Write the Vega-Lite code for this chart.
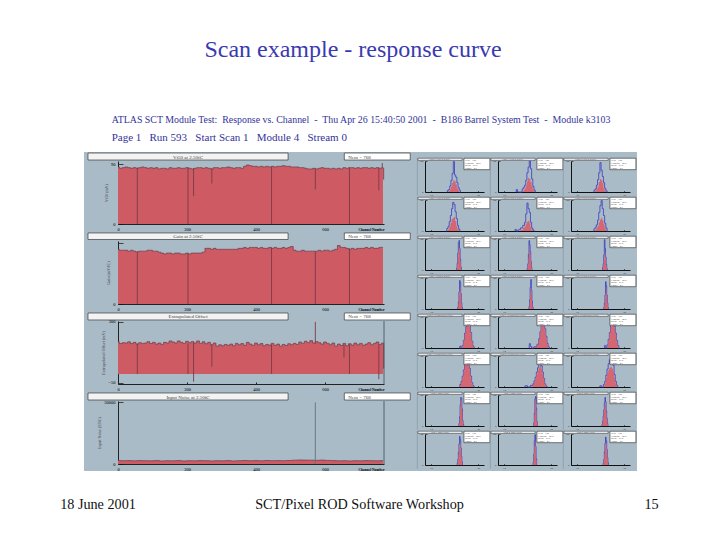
{"$schema":"https://vega.github.io/schema/vega-lite/v6.json","background":"#a9bbc6","padding":0,"spacing":0,"config":{"font":"Liberation Serif","concat":{"spacing":0},"axis":{"grid":false,"labelFont":"Liberation Serif","titleFont":"Liberation Serif","labelOverlap":false,"labelFlush":false,"labelBound":false},"style":{"cell":{"stroke":null},"hx":{"labelFontSize":2.8,"labelPadding":3,"labelColor":"#333","domainColor":"#111","domainWidth":1,"tickColor":"#111","tickSize":-1.5,"tickWidth":0.6},"hy":{"labelFontSize":2.8,"labelPadding":4,"labelColor":"#333","domainColor":"#111","domainWidth":1,"tickColor":"#111","tickSize":-2,"tickWidth":0.6}}},
"datasets":{
"vt50":[{"x":0,"v":86},{"x":8,"v":84},{"x":16,"v":85},{"x":24,"v":86},{"x":32,"v":85},{"x":40,"v":84},{"x":48,"v":85},{"x":56,"v":84},{"x":64,"v":85},{"x":72,"v":86},{"x":80,"v":85},{"x":88,"v":84},{"x":96,"v":85},{"x":104,"v":84},{"x":112,"v":85},{"x":120,"v":83},{"x":128,"v":84},{"x":136,"v":84},{"x":144,"v":83},{"x":152,"v":85},{"x":160,"v":84},{"x":168,"v":84},{"x":176,"v":85},{"x":184,"v":84},{"x":192,"v":84},{"x":200,"v":85},{"x":208,"v":84},{"x":216,"v":83},{"x":224,"v":84},{"x":232,"v":85},{"x":240,"v":85},{"x":248,"v":84},{"x":256,"v":85},{"x":264,"v":84},{"x":272,"v":83},{"x":280,"v":85},{"x":288,"v":85},{"x":296,"v":84},{"x":304,"v":85},{"x":312,"v":85},{"x":320,"v":86},{"x":328,"v":85},{"x":336,"v":84},{"x":344,"v":85},{"x":352,"v":85},{"x":360,"v":84},{"x":368,"v":87},{"x":376,"v":89},{"x":384,"v":88},{"x":392,"v":87},{"x":400,"v":87},{"x":408,"v":86},{"x":416,"v":87},{"x":424,"v":86},{"x":432,"v":87},{"x":440,"v":86},{"x":448,"v":87},{"x":456,"v":86},{"x":464,"v":87},{"x":472,"v":87},{"x":480,"v":88},{"x":488,"v":87},{"x":496,"v":87},{"x":504,"v":86},{"x":512,"v":86},{"x":520,"v":86},{"x":528,"v":85},{"x":536,"v":85},{"x":544,"v":84},{"x":552,"v":83},{"x":560,"v":83},{"x":568,"v":84},{"x":576,"v":83},{"x":584,"v":84},{"x":592,"v":85},{"x":600,"v":84},{"x":608,"v":84},{"x":616,"v":83},{"x":624,"v":84},{"x":632,"v":83},{"x":640,"v":84},{"x":648,"v":83},{"x":656,"v":85},{"x":664,"v":84},{"x":672,"v":85},{"x":680,"v":85},{"x":688,"v":84},{"x":696,"v":85},{"x":704,"v":84},{"x":712,"v":85},{"x":720,"v":85},{"x":728,"v":84},{"x":736,"v":85},{"x":744,"v":84},{"x":752,"v":85},{"x":760,"v":84},{"x":768,"v":85}],
"gain":[{"x":0,"v":58},{"x":8,"v":57},{"x":16,"v":57},{"x":24,"v":57},{"x":32,"v":56},{"x":40,"v":57},{"x":48,"v":56},{"x":56,"v":55},{"x":64,"v":56},{"x":72,"v":56},{"x":80,"v":56},{"x":88,"v":57},{"x":96,"v":57},{"x":104,"v":56},{"x":112,"v":56},{"x":120,"v":55},{"x":128,"v":54},{"x":136,"v":53},{"x":144,"v":54},{"x":152,"v":54},{"x":160,"v":53},{"x":168,"v":54},{"x":176,"v":54},{"x":184,"v":53},{"x":192,"v":53},{"x":200,"v":54},{"x":208,"v":53},{"x":216,"v":54},{"x":224,"v":54},{"x":232,"v":54},{"x":240,"v":54},{"x":248,"v":55},{"x":256,"v":59},{"x":264,"v":59},{"x":272,"v":58},{"x":280,"v":59},{"x":288,"v":58},{"x":296,"v":58},{"x":304,"v":58},{"x":312,"v":58},{"x":320,"v":58},{"x":328,"v":58},{"x":336,"v":58},{"x":344,"v":58},{"x":352,"v":59},{"x":360,"v":59},{"x":368,"v":60},{"x":376,"v":59},{"x":384,"v":60},{"x":392,"v":60},{"x":400,"v":60},{"x":408,"v":59},{"x":416,"v":60},{"x":424,"v":59},{"x":432,"v":59},{"x":440,"v":60},{"x":448,"v":59},{"x":456,"v":60},{"x":464,"v":59},{"x":472,"v":59},{"x":480,"v":60},{"x":488,"v":59},{"x":496,"v":60},{"x":504,"v":61},{"x":512,"v":57},{"x":520,"v":56},{"x":528,"v":56},{"x":536,"v":57},{"x":544,"v":56},{"x":552,"v":56},{"x":560,"v":56},{"x":568,"v":56},{"x":576,"v":56},{"x":584,"v":57},{"x":592,"v":56},{"x":600,"v":57},{"x":608,"v":57},{"x":616,"v":56},{"x":624,"v":57},{"x":632,"v":58},{"x":640,"v":62},{"x":648,"v":60},{"x":656,"v":60},{"x":664,"v":59},{"x":672,"v":58},{"x":680,"v":59},{"x":688,"v":58},{"x":696,"v":59},{"x":704,"v":59},{"x":712,"v":59},{"x":720,"v":60},{"x":728,"v":59},{"x":736,"v":60},{"x":744,"v":59},{"x":752,"v":59},{"x":760,"v":60},{"x":768,"v":60}],
"offset":[{"x":0,"v":185},{"x":8,"v":175},{"x":16,"v":180},{"x":24,"v":178},{"x":32,"v":185},{"x":40,"v":175},{"x":48,"v":182},{"x":56,"v":172},{"x":64,"v":180},{"x":72,"v":176},{"x":80,"v":178},{"x":88,"v":186},{"x":96,"v":175},{"x":104,"v":182},{"x":112,"v":172},{"x":120,"v":178},{"x":128,"v":170},{"x":136,"v":182},{"x":144,"v":178},{"x":152,"v":190},{"x":160,"v":184},{"x":168,"v":178},{"x":176,"v":190},{"x":184,"v":182},{"x":192,"v":176},{"x":200,"v":188},{"x":208,"v":180},{"x":216,"v":186},{"x":224,"v":178},{"x":232,"v":190},{"x":240,"v":176},{"x":248,"v":185},{"x":256,"v":174},{"x":264,"v":182},{"x":272,"v":168},{"x":280,"v":178},{"x":288,"v":160},{"x":296,"v":168},{"x":304,"v":162},{"x":312,"v":170},{"x":320,"v":165},{"x":328,"v":172},{"x":336,"v":162},{"x":344,"v":176},{"x":352,"v":168},{"x":360,"v":175},{"x":368,"v":165},{"x":376,"v":182},{"x":384,"v":172},{"x":392,"v":165},{"x":400,"v":178},{"x":408,"v":168},{"x":416,"v":175},{"x":424,"v":162},{"x":432,"v":170},{"x":440,"v":166},{"x":448,"v":176},{"x":456,"v":165},{"x":464,"v":172},{"x":472,"v":160},{"x":480,"v":170},{"x":488,"v":164},{"x":496,"v":174},{"x":504,"v":168},{"x":512,"v":176},{"x":520,"v":170},{"x":528,"v":184},{"x":536,"v":176},{"x":544,"v":188},{"x":552,"v":180},{"x":560,"v":192},{"x":568,"v":178},{"x":576,"v":186},{"x":584,"v":180},{"x":592,"v":172},{"x":600,"v":184},{"x":608,"v":176},{"x":616,"v":168},{"x":624,"v":178},{"x":632,"v":160},{"x":640,"v":172},{"x":648,"v":164},{"x":656,"v":176},{"x":664,"v":162},{"x":672,"v":174},{"x":680,"v":166},{"x":688,"v":178},{"x":696,"v":168},{"x":704,"v":176},{"x":712,"v":165},{"x":720,"v":172},{"x":728,"v":180},{"x":736,"v":168},{"x":744,"v":176},{"x":752,"v":184},{"x":760,"v":170},{"x":768,"v":178}],
"noise":[{"x":0,"v":1700},{"x":16,"v":1600},{"x":32,"v":1650},{"x":48,"v":1550},{"x":64,"v":1650},{"x":80,"v":1600},{"x":96,"v":1550},{"x":112,"v":1650},{"x":128,"v":1500},{"x":144,"v":1600},{"x":160,"v":1550},{"x":176,"v":1650},{"x":192,"v":1500},{"x":208,"v":1600},{"x":224,"v":1550},{"x":240,"v":1650},{"x":256,"v":1600},{"x":272,"v":1500},{"x":288,"v":1600},{"x":304,"v":1550},{"x":320,"v":1650},{"x":336,"v":1500},{"x":352,"v":1600},{"x":368,"v":1700},{"x":384,"v":1600},{"x":400,"v":1650},{"x":416,"v":1550},{"x":432,"v":1700},{"x":448,"v":1600},{"x":464,"v":1650},{"x":480,"v":1600},{"x":496,"v":1700},{"x":512,"v":1850},{"x":528,"v":1950},{"x":544,"v":1900},{"x":560,"v":1850},{"x":576,"v":1800},{"x":592,"v":1900},{"x":608,"v":1750},{"x":624,"v":1650},{"x":640,"v":1550},{"x":656,"v":1600},{"x":672,"v":1500},{"x":688,"v":1600},{"x":704,"v":1550},{"x":720,"v":1650},{"x":736,"v":1600},{"x":752,"v":1550},{"x":768,"v":1650}],
"dips1":[{"x":56,"a":85,"b":0},{"x":203,"a":85,"b":0},{"x":219,"a":84,"b":42},{"x":272,"a":84,"b":61},{"x":445,"a":86,"b":0},{"x":572,"a":84,"b":52},{"x":671,"a":85,"b":0},{"x":756,"a":85,"b":51},{"x":766,"a":92,"b":85},{"x":770,"a":85,"b":67}],
"dips2":[{"x":56,"a":56,"b":0},{"x":203,"a":54,"b":0},{"x":445,"a":60,"b":0},{"x":572,"a":56,"b":0},{"x":671,"a":59,"b":0}],
"dips3":[{"x":56,"a":175,"b":0},{"x":203,"a":175,"b":0},{"x":219,"a":180,"b":-45},{"x":272,"a":170,"b":42},{"x":445,"a":170,"b":0},{"x":572,"a":300,"b":175},{"x":655,"a":170,"b":95},{"x":671,"a":170,"b":0},{"x":756,"a":170,"b":-30},{"x":770,"a":180,"b":30}],
"dips4":[{"x":572,"a":30000,"b":0}],
"hist":[
{"c":1,"x":37,"b":0,"r":0},{"c":1,"x":39,"b":5,"r":1},{"c":1,"x":41,"b":8,"r":3},{"c":1,"x":43,"b":20,"r":8},{"c":1,"x":45,"b":38,"r":18},{"c":1,"x":47,"b":60,"r":30},{"c":1,"x":49,"b":98,"r":38},{"c":1,"x":51,"b":55,"r":35},{"c":1,"x":53,"b":48,"r":25},{"c":1,"x":55,"b":30,"r":12},{"c":1,"x":57,"b":14,"r":5},{"c":1,"x":59,"b":6,"r":1},{"c":1,"x":61,"b":0,"r":0},
{"c":2,"x":30,"b":0,"r":0},{"c":2,"x":32,"b":8,"r":0},{"c":2,"x":34,"b":0,"r":0},{"c":2,"x":40,"b":0,"r":0},{"c":2,"x":42,"b":10,"r":2},{"c":2,"x":44,"b":15,"r":6},{"c":2,"x":46,"b":22,"r":12},{"c":2,"x":48,"b":38,"r":22},{"c":2,"x":50,"b":62,"r":35},{"c":2,"x":52,"b":80,"r":45},{"c":2,"x":54,"b":100,"r":42},{"c":2,"x":56,"b":75,"r":32},{"c":2,"x":58,"b":42,"r":18},{"c":2,"x":60,"b":18,"r":6},{"c":2,"x":62,"b":6,"r":2},{"c":2,"x":64,"b":0,"r":0},
{"c":3,"x":38,"b":0,"r":0},{"c":3,"x":40,"b":6,"r":1},{"c":3,"x":42,"b":10,"r":4},{"c":3,"x":44,"b":22,"r":10},{"c":3,"x":46,"b":40,"r":18},{"c":3,"x":48,"b":62,"r":32},{"c":3,"x":50,"b":95,"r":42},{"c":3,"x":52,"b":70,"r":38},{"c":3,"x":54,"b":50,"r":28},{"c":3,"x":56,"b":30,"r":12},{"c":3,"x":58,"b":12,"r":4},{"c":3,"x":60,"b":4,"r":1},{"c":3,"x":62,"b":0,"r":0},
{"c":4,"x":36,"b":0,"r":0},{"c":4,"x":38,"b":8,"r":2},{"c":4,"x":40,"b":15,"r":5},{"c":4,"x":42,"b":30,"r":14},{"c":4,"x":44,"b":50,"r":26},{"c":4,"x":46,"b":72,"r":38},{"c":4,"x":48,"b":92,"r":42},{"c":4,"x":50,"b":85,"r":45},{"c":4,"x":52,"b":62,"r":32},{"c":4,"x":54,"b":40,"r":16},{"c":4,"x":56,"b":18,"r":6},{"c":4,"x":58,"b":6,"r":1},{"c":4,"x":60,"b":0,"r":0},
{"c":5,"x":28,"b":0,"r":0},{"c":5,"x":30,"b":5,"r":0},{"c":5,"x":32,"b":0,"r":0},{"c":5,"x":36,"b":4,"r":0},{"c":5,"x":40,"b":10,"r":3},{"c":5,"x":44,"b":18,"r":10},{"c":5,"x":46,"b":28,"r":15},{"c":5,"x":48,"b":55,"r":24},{"c":5,"x":50,"b":90,"r":30},{"c":5,"x":52,"b":72,"r":32},{"c":5,"x":54,"b":60,"r":26},{"c":5,"x":56,"b":28,"r":12},{"c":5,"x":58,"b":10,"r":3},{"c":5,"x":60,"b":3,"r":0},{"c":5,"x":62,"b":0,"r":0},
{"c":6,"x":38,"b":0,"r":0},{"c":6,"x":40,"b":7,"r":2},{"c":6,"x":42,"b":12,"r":4},{"c":6,"x":44,"b":20,"r":10},{"c":6,"x":46,"b":35,"r":16},{"c":6,"x":48,"b":60,"r":28},{"c":6,"x":50,"b":82,"r":36},{"c":6,"x":52,"b":98,"r":42},{"c":6,"x":54,"b":72,"r":35},{"c":6,"x":56,"b":50,"r":22},{"c":6,"x":58,"b":25,"r":9},{"c":6,"x":60,"b":10,"r":3},{"c":6,"x":62,"b":0,"r":0},
{"c":7,"x":53,"b":0,"r":0},{"c":7,"x":54,"b":6,"r":4},{"c":7,"x":55,"b":22,"r":18},{"c":7,"x":56,"b":55,"r":40},{"c":7,"x":57,"b":88,"r":62},{"c":7,"x":58,"b":95,"r":72},{"c":7,"x":59,"b":70,"r":60},{"c":7,"x":60,"b":35,"r":28},{"c":7,"x":61,"b":10,"r":8},{"c":7,"x":62,"b":0,"r":0},
{"c":8,"x":49,"b":0,"r":0},{"c":8,"x":50,"b":5,"r":4},{"c":8,"x":51,"b":20,"r":14},{"c":8,"x":52,"b":50,"r":38},{"c":8,"x":53,"b":95,"r":55},{"c":8,"x":54,"b":82,"r":70},{"c":8,"x":55,"b":60,"r":50},{"c":8,"x":56,"b":28,"r":22},{"c":8,"x":57,"b":8,"r":6},{"c":8,"x":58,"b":0,"r":0},
{"c":9,"x":53,"b":0,"r":0},{"c":9,"x":54,"b":8,"r":4},{"c":9,"x":55,"b":20,"r":14},{"c":9,"x":56,"b":48,"r":30},{"c":9,"x":57,"b":98,"r":45},{"c":9,"x":58,"b":70,"r":58},{"c":9,"x":59,"b":42,"r":35},{"c":9,"x":60,"b":18,"r":14},{"c":9,"x":61,"b":5,"r":3},{"c":9,"x":62,"b":0,"r":0},
{"c":10,"x":55,"b":0,"r":0},{"c":10,"x":56,"b":6,"r":4},{"c":10,"x":57,"b":22,"r":18},{"c":10,"x":58,"b":55,"r":42},{"c":10,"x":59,"b":92,"r":60},{"c":10,"x":60,"b":85,"r":70},{"c":10,"x":61,"b":50,"r":45},{"c":10,"x":62,"b":20,"r":16},{"c":10,"x":63,"b":5,"r":3},{"c":10,"x":64,"b":0,"r":0},
{"c":11,"x":52,"b":0,"r":0},{"c":11,"x":53,"b":8,"r":5},{"c":11,"x":54,"b":30,"r":22},{"c":11,"x":55,"b":70,"r":50},{"c":11,"x":56,"b":95,"r":68},{"c":11,"x":57,"b":60,"r":52},{"c":11,"x":58,"b":25,"r":20},{"c":11,"x":59,"b":6,"r":4},{"c":11,"x":60,"b":0,"r":0},
{"c":12,"x":55,"b":0,"r":0},{"c":12,"x":56,"b":5,"r":3},{"c":12,"x":57,"b":18,"r":12},{"c":12,"x":58,"b":45,"r":32},{"c":12,"x":59,"b":88,"r":52},{"c":12,"x":60,"b":75,"r":65},{"c":12,"x":61,"b":45,"r":42},{"c":12,"x":62,"b":20,"r":18},{"c":12,"x":63,"b":4,"r":3},{"c":12,"x":64,"b":0,"r":0},
{"c":13,"x":58,"b":0,"r":0},{"c":13,"x":60,"b":6,"r":0},{"c":13,"x":62,"b":0,"r":0},{"c":13,"x":64,"b":8,"r":6},{"c":13,"x":66,"b":25,"r":24},{"c":13,"x":68,"b":48,"r":46},{"c":13,"x":70,"b":68,"r":66},{"c":13,"x":72,"b":85,"r":78},{"c":13,"x":74,"b":90,"r":82},{"c":13,"x":76,"b":72,"r":68},{"c":13,"x":78,"b":50,"r":46},{"c":13,"x":80,"b":22,"r":20},{"c":13,"x":82,"b":6,"r":4},{"c":13,"x":84,"b":0,"r":0},
{"c":14,"x":52,"b":0,"r":0},{"c":14,"x":54,"b":14,"r":0},{"c":14,"x":56,"b":5,"r":0},{"c":14,"x":58,"b":0,"r":0},{"c":14,"x":64,"b":4,"r":3},{"c":14,"x":68,"b":12,"r":10},{"c":14,"x":70,"b":30,"r":28},{"c":14,"x":72,"b":52,"r":50},{"c":14,"x":74,"b":78,"r":70},{"c":14,"x":76,"b":92,"r":85},{"c":14,"x":78,"b":85,"r":80},{"c":14,"x":80,"b":62,"r":58},{"c":14,"x":82,"b":38,"r":35},{"c":14,"x":84,"b":15,"r":12},{"c":14,"x":86,"b":4,"r":2},{"c":14,"x":88,"b":0,"r":0},
{"c":15,"x":56,"b":0,"r":0},{"c":15,"x":58,"b":8,"r":0},{"c":15,"x":60,"b":0,"r":0},{"c":15,"x":62,"b":10,"r":8},{"c":15,"x":64,"b":28,"r":25},{"c":15,"x":66,"b":50,"r":48},{"c":15,"x":68,"b":72,"r":68},{"c":15,"x":70,"b":88,"r":82},{"c":15,"x":72,"b":92,"r":85},{"c":15,"x":74,"b":70,"r":65},{"c":15,"x":76,"b":48,"r":44},{"c":15,"x":78,"b":24,"r":20},{"c":15,"x":80,"b":8,"r":5},{"c":15,"x":82,"b":0,"r":0},
{"c":16,"x":58,"b":0,"r":0},{"c":16,"x":60,"b":8,"r":6},{"c":16,"x":62,"b":18,"r":16},{"c":16,"x":64,"b":35,"r":32},{"c":16,"x":66,"b":55,"r":52},{"c":16,"x":68,"b":72,"r":70},{"c":16,"x":70,"b":88,"r":84},{"c":16,"x":72,"b":95,"r":90},{"c":16,"x":74,"b":85,"r":80},{"c":16,"x":76,"b":60,"r":56},{"c":16,"x":78,"b":35,"r":30},{"c":16,"x":80,"b":14,"r":10},{"c":16,"x":82,"b":4,"r":2},{"c":16,"x":84,"b":0,"r":0},
{"c":17,"x":44,"b":0,"r":0},{"c":17,"x":48,"b":4,"r":1},{"c":17,"x":52,"b":0,"r":0},{"c":17,"x":58,"b":5,"r":2},{"c":17,"x":60,"b":10,"r":8},{"c":17,"x":62,"b":20,"r":16},{"c":17,"x":64,"b":32,"r":28},{"c":17,"x":66,"b":48,"r":42},{"c":17,"x":68,"b":62,"r":55},{"c":17,"x":70,"b":72,"r":62},{"c":17,"x":72,"b":88,"r":70},{"c":17,"x":74,"b":68,"r":58},{"c":17,"x":76,"b":48,"r":42},{"c":17,"x":78,"b":28,"r":24},{"c":17,"x":80,"b":10,"r":8},{"c":17,"x":82,"b":3,"r":1},{"c":17,"x":84,"b":0,"r":0},
{"c":18,"x":48,"b":0,"r":0},{"c":18,"x":50,"b":4,"r":1},{"c":18,"x":54,"b":0,"r":0},{"c":18,"x":56,"b":8,"r":4},{"c":18,"x":58,"b":18,"r":12},{"c":18,"x":60,"b":38,"r":30},{"c":18,"x":62,"b":58,"r":44},{"c":18,"x":64,"b":75,"r":55},{"c":18,"x":66,"b":88,"r":62},{"c":18,"x":68,"b":92,"r":65},{"c":18,"x":70,"b":82,"r":60},{"c":18,"x":72,"b":70,"r":50},{"c":18,"x":74,"b":40,"r":30},{"c":18,"x":76,"b":18,"r":12},{"c":18,"x":78,"b":6,"r":3},{"c":18,"x":80,"b":0,"r":0},
{"c":19,"x":57,"b":0,"r":0},{"c":19,"x":58,"b":8,"r":5},{"c":19,"x":59,"b":30,"r":25},{"c":19,"x":60,"b":68,"r":58},{"c":19,"x":61,"b":92,"r":80},{"c":19,"x":62,"b":90,"r":82},{"c":19,"x":63,"b":55,"r":48},{"c":19,"x":64,"b":18,"r":15},{"c":19,"x":65,"b":5,"r":3},{"c":19,"x":66,"b":0,"r":0},
{"c":20,"x":60,"b":0,"r":0},{"c":20,"x":61,"b":10,"r":8},{"c":20,"x":62,"b":42,"r":35},{"c":20,"x":63,"b":88,"r":75},{"c":20,"x":64,"b":95,"r":85},{"c":20,"x":65,"b":58,"r":50},{"c":20,"x":66,"b":15,"r":12},{"c":20,"x":67,"b":0,"r":0},
{"c":21,"x":52,"b":0,"r":0},{"c":21,"x":53,"b":5,"r":3},{"c":21,"x":54,"b":15,"r":12},{"c":21,"x":55,"b":32,"r":28},{"c":21,"x":56,"b":52,"r":45},{"c":21,"x":57,"b":75,"r":62},{"c":21,"x":58,"b":92,"r":70},{"c":21,"x":59,"b":78,"r":68},{"c":21,"x":60,"b":48,"r":42},{"c":21,"x":61,"b":25,"r":20},{"c":21,"x":62,"b":8,"r":6},{"c":21,"x":63,"b":0,"r":0},
{"c":22,"x":54,"b":0,"r":0},{"c":22,"x":55,"b":6,"r":4},{"c":22,"x":56,"b":18,"r":14},{"c":22,"x":57,"b":40,"r":32},{"c":22,"x":58,"b":68,"r":52},{"c":22,"x":59,"b":92,"r":68},{"c":22,"x":60,"b":82,"r":70},{"c":22,"x":61,"b":55,"r":46},{"c":22,"x":62,"b":28,"r":22},{"c":22,"x":63,"b":10,"r":7},{"c":22,"x":64,"b":0,"r":0},
{"c":23,"x":59,"b":0,"r":0},{"c":23,"x":60,"b":8,"r":6},{"c":23,"x":61,"b":35,"r":28},{"c":23,"x":62,"b":78,"r":62},{"c":23,"x":63,"b":98,"r":78},{"c":23,"x":64,"b":60,"r":50},{"c":23,"x":65,"b":20,"r":16},{"c":23,"x":66,"b":0,"r":0},
{"c":24,"x":54,"b":0,"r":0},{"c":24,"x":55,"b":6,"r":4},{"c":24,"x":56,"b":18,"r":14},{"c":24,"x":57,"b":42,"r":34},{"c":24,"x":58,"b":70,"r":55},{"c":24,"x":59,"b":90,"r":70},{"c":24,"x":60,"b":78,"r":68},{"c":24,"x":61,"b":50,"r":42},{"c":24,"x":62,"b":24,"r":18},{"c":24,"x":63,"b":8,"r":5},{"c":24,"x":64,"b":0,"r":0},
{"c":1,"title":"Chip 0 Vt50 at 2.50fC"},{"c":2,"title":"Chip 1 Vt50 at 2.50fC"},{"c":3,"title":"Chip 2 Vt50 at 2.50fC"},{"c":4,"title":"Chip 3 Vt50 at 2.50fC"},{"c":5,"title":"Chip 4 Vt50 at 2.50fC"},{"c":6,"title":"Chip 5 Vt50 at 2.50fC"},
{"c":7,"title":"Chip 0 Gain at 2.50fC"},{"c":8,"title":"Chip 1 Gain at 2.50fC"},{"c":9,"title":"Chip 2 Gain at 2.50fC"},{"c":10,"title":"Chip 3 Gain at 2.50fC"},{"c":11,"title":"Chip 4 Gain at 2.50fC"},{"c":12,"title":"Chip 5 Gain at 2.50fC"},
{"c":13,"title":"Chip 0 Extrapolated Offset"},{"c":14,"title":"Chip 1 Extrapolated Offset"},{"c":15,"title":"Chip 2 Extrapolated Offset"},{"c":16,"title":"Chip 3 Extrapolated Offset"},{"c":17,"title":"Chip 4 Extrapolated Offset"},{"c":18,"title":"Chip 5 Extrapolated Offset"},
{"c":19,"title":"Chip 0 Input Noise"},{"c":20,"title":"Chip 1 Input Noise"},{"c":21,"title":"Chip 2 Input Noise"},{"c":22,"title":"Chip 3 Input Noise"},{"c":23,"title":"Chip 4 Input Noise"},{"c":24,"title":"Chip 5 Input Noise"}
]},
"vconcat":[
{"width":720,"height":114,"view":{"fill":"white","stroke":null},"data":{"values":[{"t":"Scan example - response curve"}]},"mark":{"type":"text","font":"Liberation Serif","fontSize":24,"color":"#3a3ab0","dx":-7,"dy":-7},"encoding":{"text":{"field":"t"}}},
{"hconcat":[
{"width":84,"height":357,"view":{"fill":"white","stroke":null},"data":{"values":[{"t":""}]},"mark":"text"},
{"vconcat":[
{"width":553,"height":38,"view":{"fill":"white","stroke":null},"data":{"values":[{"line":1,"t":"ATLAS SCT Module Test:\u00a0 Response vs. Channel\u00a0 -\u00a0 Thu Apr 26 15:40:50 2001\u00a0 -\u00a0 B186 Barrel System Test\u00a0 -\u00a0 Module k3103"},{"line":2,"t":"Page 1\u00a0\u00a0 Run 593\u00a0\u00a0 Start Scan 1\u00a0\u00a0 Module 4\u00a0\u00a0 Stream 0"}]},"layer":[
{"transform":[{"filter":"datum.line==1"}],"mark":{"type":"text","font":"Liberation Serif","fontSize":9.9,"color":"#33339a","align":"left"},"encoding":{"x":{"datum":0.05,"scale":{"domain":[0,1]},"axis":null},"y":{"field":"line","type":"quantitative","scale":{"domain":[2.78,0.667],"zero":false,"nice":false},"axis":null},"text":{"field":"t"}}},
{"transform":[{"filter":"datum.line==2"}],"mark":{"type":"text","font":"Liberation Serif","fontSize":11,"color":"#33339a","align":"left"},"encoding":{"x":{"datum":0.05},"y":{"field":"line","type":"quantitative"},"text":{"field":"t"}}}
]},
{"hconcat":[
{"width":3,"height":300,"view":{"stroke":null},"data":{"values":[{"t":""}]},"mark":"text"},
{"vconcat":[
{"width":266,"height":63,"view":{"stroke":null},"layer":[
{"data":{"name":"vt50"},"mark":{"type":"area","interpolate":"step","color":"#ce5a63"},"encoding":{"x":{"field":"x","type":"quantitative","scale":{"domain":[0,771],"nice":false},"axis":{"title":"Channel Number","labelOverlap":false,"titleFontSize":3.5,"titleAnchor":"end","titlePadding":-3,"values":[0,100,200,300,400,500,600,700],"labelFontSize":4.5,"labelPadding":4,"domainColor":"#222","tickColor":"#222","tickSize":-2}},"y":{"field":"v","type":"quantitative","scale":{"domain":[0,95],"nice":false},"axis":{"title":"Vt50 (mV)","labelOverlap":false,"titleFontSize":4,"titleColor":"#667","titlePadding":2,"values":[0,5,10,15,20,25,30,35,40,45,50,55,60,65,70,75,80,85,90],"labelExpr":"datum.value%10==0?datum.label:''","labelFontSize":4.5,"labelPadding":8,"domainColor":"#222","tickColor":"#111","tickWidth":0.7,"tickSize":-5}}}},
{"data":{"name":"vt50"},"mark":{"type":"line","interpolate":"step","color":"#6d3a47","strokeWidth":0.7},"encoding":{"x":{"field":"x","type":"quantitative"},"y":{"field":"v","type":"quantitative"}}},
{"data":{"name":"dips1"},"mark":{"type":"rule","color":"#7a3c4a","strokeWidth":0.9},"encoding":{"x":{"field":"x","type":"quantitative"},"y":{"field":"a","type":"quantitative"},"y2":{"field":"b"}}},
{"data":{"values":[{"t":"Vt50 at 2.50fC"}]},"mark":{"type":"rect","fill":"#f3f3f3","stroke":"#222","strokeWidth":0.6},"encoding":{"x":{"datum":-87},"x2":{"datum":493},"y":{"datum":96.5},"y2":{"datum":107}}},
{"data":{"values":[{"t":"Vt50 at 2.50fC"}]},"mark":{"type":"text","fontSize":5,"color":"#444"},"encoding":{"x":{"datum":203},"y":{"datum":101.7},"text":{"field":"t"}}},
{"data":{"values":[{"t":"Nent = 768"}]},"mark":{"type":"rect","fill":"white","stroke":"#222","strokeWidth":0.6},"encoding":{"x":{"datum":656},"x2":{"datum":847},"y":{"datum":96.5},"y2":{"datum":107}}},
{"data":{"values":[{"t":"Nent = 768"}]},"mark":{"type":"text","fontSize":5,"color":"#444"},"encoding":{"x":{"datum":700},"y":{"datum":101.7},"text":{"field":"t"}}}
]},
{"width":266,"height":63,"view":{"stroke":null},"layer":[
{"data":{"name":"gain"},"mark":{"type":"area","interpolate":"step","color":"#ce5a63"},"encoding":{"x":{"field":"x","type":"quantitative","scale":{"domain":[0,771],"nice":false},"axis":{"title":"Channel Number","labelOverlap":false,"titleFontSize":3.5,"titleAnchor":"end","titlePadding":-3,"values":[0,100,200,300,400,500,600,700],"labelFontSize":4.5,"labelPadding":4,"domainColor":"#222","tickColor":"#222","tickSize":-2}},"y":{"field":"v","type":"quantitative","scale":{"domain":[0,66.8],"nice":false},"axis":{"title":"Gain (mV/fC)","labelOverlap":false,"titleFontSize":4,"titleColor":"#667","titlePadding":2,"values":[0,5,10,15,20,25,30,35,40,45,50,55,60,65],"labelExpr":"datum.value%10==0?datum.label:''","labelFontSize":4.5,"labelPadding":8,"domainColor":"#222","tickColor":"#111","tickWidth":0.7,"tickSize":-5}}}},
{"data":{"name":"gain"},"mark":{"type":"line","interpolate":"step","color":"#6d3a47","strokeWidth":0.7},"encoding":{"x":{"field":"x","type":"quantitative"},"y":{"field":"v","type":"quantitative"}}},
{"data":{"name":"dips2"},"mark":{"type":"rule","color":"#7a3c4a","strokeWidth":0.9},"encoding":{"x":{"field":"x","type":"quantitative"},"y":{"field":"a","type":"quantitative"},"y2":{"field":"b"}}},
{"data":{"values":[{"t":"Gain at 2.50fC"}]},"mark":{"type":"rect","fill":"#f3f3f3","stroke":"#222","strokeWidth":0.6},"encoding":{"x":{"datum":-87},"x2":{"datum":493},"y":{"datum":68.4},"y2":{"datum":75.3}}},
{"data":{"values":[{"t":"Gain at 2.50fC"}]},"mark":{"type":"text","fontSize":5,"color":"#444"},"encoding":{"x":{"datum":203},"y":{"datum":71.9},"text":{"field":"t"}}},
{"data":{"values":[{"t":"Nent = 768"}]},"mark":{"type":"rect","fill":"white","stroke":"#222","strokeWidth":0.6},"encoding":{"x":{"datum":656},"x2":{"datum":847},"y":{"datum":68.4},"y2":{"datum":75.3}}},
{"data":{"values":[{"t":"Nent = 768"}]},"mark":{"type":"text","fontSize":5,"color":"#444"},"encoding":{"x":{"datum":700},"y":{"datum":71.9},"text":{"field":"t"}}}
]},
{"width":266,"height":63,"view":{"stroke":null},"layer":[
{"data":{"name":"offset"},"mark":{"type":"area","interpolate":"step","color":"#ce5a63"},"encoding":{"x":{"field":"x","type":"quantitative","scale":{"domain":[0,771],"nice":false},"axis":{"title":"Channel Number","labelOverlap":false,"titleFontSize":3.5,"titleAnchor":"end","titlePadding":-3,"values":[0,100,200,300,400,500,600,700],"labelFontSize":4.5,"labelPadding":4,"domainColor":"#222","tickColor":"#222","tickSize":-2}},"y":{"field":"v","type":"quantitative","scale":{"domain":[-58,305],"nice":false,"zero":false},"axis":{"title":"Extrapolated Offset (mV)","labelOverlap":false,"titleFontSize":4,"titleColor":"#667","titlePadding":2,"values":[-50,-25,0,25,50,75,100,125,150,175,200,225,250,275,300],"labelExpr":"datum.value%50==0?datum.label:''","labelFontSize":4.5,"labelPadding":8,"domainColor":"#222","tickColor":"#111","tickWidth":0.7,"tickSize":-5}}}},
{"data":{"name":"offset"},"mark":{"type":"line","interpolate":"step","color":"#6d3a47","strokeWidth":0.7},"encoding":{"x":{"field":"x","type":"quantitative"},"y":{"field":"v","type":"quantitative"}}},
{"data":{"name":"dips3"},"mark":{"type":"rule","color":"#7a3c4a","strokeWidth":0.9},"encoding":{"x":{"field":"x","type":"quantitative"},"y":{"field":"a","type":"quantitative"},"y2":{"field":"b"}}},
{"data":{"values":[{"t":"edge"}]},"mark":{"type":"rule","color":"#3f4a55","strokeWidth":0.8},"encoding":{"x":{"datum":771}}},
{"data":{"values":[{"t":"Extrapolated Offset"}]},"mark":{"type":"rect","fill":"#f3f3f3","stroke":"#222","strokeWidth":0.6},"encoding":{"x":{"datum":-87},"x2":{"datum":493},"y":{"datum":311},"y2":{"datum":351}}},
{"data":{"values":[{"t":"Extrapolated Offset"}]},"mark":{"type":"text","fontSize":5,"color":"#444"},"encoding":{"x":{"datum":203},"y":{"datum":331},"text":{"field":"t"}}},
{"data":{"values":[{"t":"Nent = 768"}]},"mark":{"type":"rect","fill":"white","stroke":"#222","strokeWidth":0.6},"encoding":{"x":{"datum":656},"x2":{"datum":847},"y":{"datum":311},"y2":{"datum":351}}},
{"data":{"values":[{"t":"Nent = 768"}]},"mark":{"type":"text","fontSize":5,"color":"#444"},"encoding":{"x":{"datum":700},"y":{"datum":331},"text":{"field":"t"}}}
]},
{"width":266,"height":63,"view":{"stroke":null},"layer":[
{"data":{"name":"noise"},"mark":{"type":"area","interpolate":"step","color":"#ce5a63"},"encoding":{"x":{"field":"x","type":"quantitative","scale":{"domain":[0,771],"nice":false},"axis":{"title":"Channel Number","labelOverlap":false,"titleFontSize":3.5,"titleAnchor":"end","titlePadding":-3,"values":[0,100,200,300,400,500,600,700],"labelFontSize":4.5,"labelPadding":4,"domainColor":"#222","tickColor":"#222","tickSize":-2}},"y":{"field":"v","type":"quantitative","scale":{"domain":[0,30680],"nice":false},"axis":{"title":"Input Noise (ENC)","labelOverlap":false,"titleFontSize":4,"titleColor":"#667","titlePadding":2,"values":[0,2500,5000,7500,10000,12500,15000,17500,20000,22500,25000,27500,30000],"labelExpr":"datum.value%5000==0?format(datum.value,'d'):''","labelFontSize":4.5,"labelPadding":8,"domainColor":"#222","tickColor":"#111","tickWidth":0.7,"tickSize":-5}}}},
{"data":{"name":"noise"},"mark":{"type":"line","interpolate":"step","color":"#6d3a47","strokeWidth":0.7},"encoding":{"x":{"field":"x","type":"quantitative"},"y":{"field":"v","type":"quantitative"}}},
{"data":{"name":"dips4"},"mark":{"type":"rule","color":"#66707c","strokeWidth":0.9},"encoding":{"x":{"field":"x","type":"quantitative"},"y":{"field":"a","type":"quantitative"},"y2":{"field":"b"}}},
{"data":{"values":[{"t":"edge"}]},"mark":{"type":"rule","color":"#3f4a55","strokeWidth":0.8},"encoding":{"x":{"datum":771}}},
{"data":{"values":[{"t":"Input Noise at 2.50fC"}]},"mark":{"type":"rect","fill":"#f3f3f3","stroke":"#222","strokeWidth":0.6},"encoding":{"x":{"datum":-87},"x2":{"datum":493},"y":{"datum":31167},"y2":{"datum":34576}}},
{"data":{"values":[{"t":"Input Noise at 2.50fC"}]},"mark":{"type":"text","fontSize":5,"color":"#444"},"encoding":{"x":{"datum":203},"y":{"datum":32870},"text":{"field":"t"}}},
{"data":{"values":[{"t":"Nent = 768"}]},"mark":{"type":"rect","fill":"white","stroke":"#222","strokeWidth":0.6},"encoding":{"x":{"datum":656},"x2":{"datum":847},"y":{"datum":31167},"y2":{"datum":34576}}},
{"data":{"values":[{"t":"Nent = 768"}]},"mark":{"type":"text","fontSize":5,"color":"#444"},"encoding":{"x":{"datum":700},"y":{"datum":32870},"text":{"field":"t"}}}
]}
],"bounds":"flush","spacing":17},
{"width":5,"height":300,"view":{"stroke":null},"data":{"values":[{"t":""}]},"mark":"text"},
{"data":{"name":"hist"},"facet":{"field":"c","type":"ordinal","header":{"labels":false,"title":null,"labelExpr":"''","labelFontSize":0.1,"labelPadding":0,"labelColor":"transparent","titleFontSize":0.1,"titlePadding":0}},"columns":3,"bounds":"flush","spacing":{"row":8,"column":14},"resolve":{"axis":{"x":"independent","y":"independent"}},"spec":{"width":59,"height":31,"view":{"stroke":null},"layer":[
{"transform":[{"filter":"isValid(datum.x)"}],"mark":{"type":"line","interpolate":"step","color":"#3b3bc0","strokeWidth":0.8},"encoding":{"x":{"field":"x","type":"quantitative","scale":{"domain":[0,100],"nice":false},"axis":{"title":null,"style":"hx","labelOverlap":false,"values":[10,20,30,40,50,60,70,80,90]}},"y":{"field":"b","type":"quantitative","scale":{"domain":[0,100],"nice":false},"axis":{"title":null,"style":"hy","labelOverlap":false,"values":[0,10,20,30,40,50,60,70,80,90,100]}}}},
{"transform":[{"filter":"isValid(datum.x)"}],"mark":{"type":"area","interpolate":"step","color":"#d8606a","opacity":0.92},"encoding":{"x":{"field":"x","type":"quantitative"},"y":{"field":"r","type":"quantitative"}}},
{"transform":[{"filter":"isValid(datum.title)"}],"mark":{"type":"rule","color":"#8a9ba7","strokeWidth":0.8},"encoding":{"x":{"datum":-13},"y":{"datum":-12},"y2":{"datum":109}}},
{"transform":[{"filter":"isValid(datum.title)"}],"mark":{"type":"rect","fill":"#f3f3f3","stroke":"#222","strokeWidth":0.5},"encoding":{"x":{"datum":-12},"x2":{"datum":63},"y":{"datum":102},"y2":{"datum":109}}},
{"transform":[{"filter":"isValid(datum.title)"}],"mark":{"type":"text","fontSize":2.4,"color":"#444"},"encoding":{"x":{"datum":25},"y":{"datum":105.5},"text":{"field":"title"}}},
{"transform":[{"filter":"isValid(datum.title)"}],"mark":{"type":"rect","fill":"white","stroke":"#222","strokeWidth":0.6},"encoding":{"x":{"datum":66},"x2":{"datum":110},"y":{"datum":72},"y2":{"datum":109}}},
{"transform":[{"filter":"isValid(datum.title)"}],"mark":{"type":"text","fontSize":2.4,"color":"#444","align":"left","lineBreak":"|","lineHeight":2.8,"baseline":"top"},"encoding":{"x":{"datum":68},"y":{"datum":107},"text":{"value":"Nent = 128|Constant = 22.8|Mean = 81.2|Sigma = 4.0"}}}
]}}
]}
]},
{"width":83,"height":357,"view":{"fill":"white","stroke":null},"data":{"values":[{"t":""}]},"mark":"text"}
]},
{"hconcat":[
{"width":196,"height":69,"view":{"fill":"white","stroke":null},"data":{"values":[{"t":"18 June 2001"}]},"mark":{"type":"text","font":"Liberation Serif","fontSize":14.2,"color":"#111","dy":-1},"encoding":{"text":{"field":"t"}}},
{"width":327,"height":69,"view":{"fill":"white","stroke":null},"data":{"values":[{"t":"SCT/Pixel ROD Software Workshop"}]},"mark":{"type":"text","font":"Liberation Serif","fontSize":14.2,"color":"#111","dy":-1},"encoding":{"text":{"field":"t"}}},
{"width":197,"height":69,"view":{"fill":"white","stroke":null},"data":{"values":[{"t":"15"}]},"mark":{"type":"text","font":"Liberation Serif","fontSize":14.2,"color":"#111","dx":30,"dy":-1},"encoding":{"text":{"field":"t"}}}
]}
]}
